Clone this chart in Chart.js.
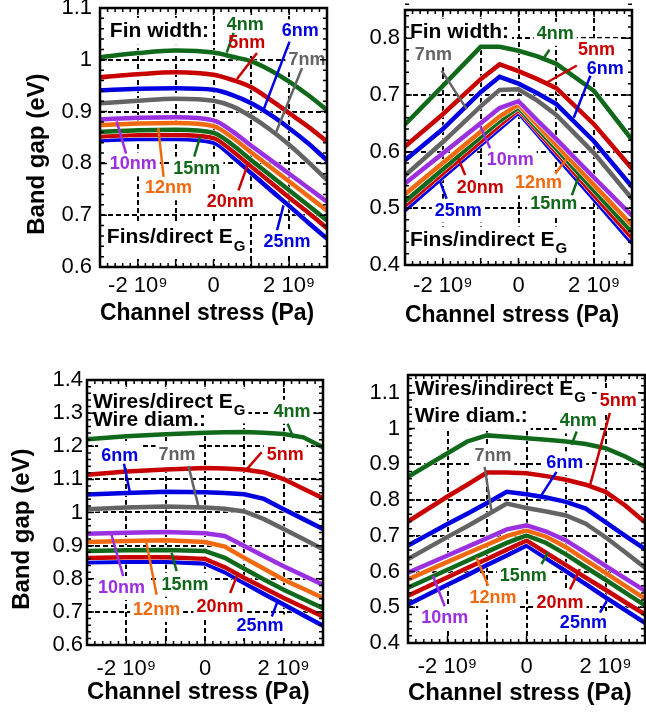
<!DOCTYPE html>
<html>
<head>
<meta charset="utf-8">
<script src="https://cdn.jsdelivr.net/npm/chart.js@4.4.0/dist/chart.umd.min.js"></script>
<style>
  body { margin: 0; background: #fff; width: 646px; height: 713px; position: relative; overflow: hidden; }
  canvas { position: absolute; }
</style>
</head>
<body>
<canvas id="finsDirect" width="330" height="340" style="left:0;top:0"></canvas>
<canvas id="finsIndirect" width="316" height="340" style="left:330px;top:0"></canvas>
<canvas id="wiresDirect" width="330" height="363" style="left:0;top:350px"></canvas>
<canvas id="wiresIndirect" width="316" height="363" style="left:330px;top:350px"></canvas>
<script>
// Band gap vs channel stress, fins and wires

const widths = ['4nm', '5nm', '6nm', '7nm', '10nm', '12nm', '15nm', '20nm', '25nm'];

const stressTickValues = [-2e9, 0, 2e9];
const stressTickLabels = ['-2 10⁹', '0', '2 10⁹'];

// Fins / direct gap
const stressFinsDirect = [-3e9, -2e9, -1e9, 0, 0.5e9, 1e9, 1.5e9, 2e9, 2.5e9, 3e9];
const gapFinsDirect = [
  [1.005, 1.013, 1.018, 1.014, 1.006, 0.997, 0.980, 0.958, 0.932, 0.903],
  [0.966, 0.972, 0.976, 0.971, 0.961, 0.947, 0.923, 0.897, 0.871, 0.842],
  [0.941, 0.944, 0.945, 0.942, 0.932, 0.916, 0.894, 0.868, 0.839, 0.806],
  [0.916, 0.921, 0.925, 0.921, 0.910, 0.890, 0.865, 0.836, 0.803, 0.768],
  [0.885, 0.888, 0.889, 0.883, 0.862, 0.834, 0.807, 0.780, 0.753, 0.726],
  [0.874, 0.877, 0.878, 0.872, 0.850, 0.821, 0.793, 0.765, 0.737, 0.709],
  [0.861, 0.864, 0.865, 0.859, 0.836, 0.806, 0.777, 0.748, 0.719, 0.690],
  [0.852, 0.855, 0.855, 0.849, 0.824, 0.794, 0.764, 0.734, 0.705, 0.675],
  [0.845, 0.847, 0.847, 0.840, 0.813, 0.781, 0.749, 0.718, 0.686, 0.655]
];

// Fins / indirect gap
const stressFinsIndirect = [-3e9, -2e9, -1e9, -0.5e9, 0, 0.5e9, 1e9, 2e9, 3e9];
const gapFinsIndirect = [
  [0.648, 0.716, 0.785, 0.785, 0.778, 0.768, 0.755, 0.707, 0.621],
  [0.609, 0.666, 0.728, 0.754, 0.742, 0.728, 0.712, 0.648, 0.570],
  [0.585, 0.640, 0.705, 0.732, 0.720, 0.703, 0.684, 0.618, 0.538],
  [0.558, 0.617, 0.680, 0.709, 0.710, 0.690, 0.665, 0.597, 0.517],
  [0.544, 0.597, 0.650, 0.677, 0.689, 0.655, 0.622, 0.554, 0.487],
  [0.525, 0.580, 0.635, 0.662, 0.683, 0.647, 0.612, 0.541, 0.470],
  [0.512, 0.569, 0.626, 0.654, 0.678, 0.641, 0.605, 0.531, 0.458],
  [0.505, 0.562, 0.618, 0.647, 0.674, 0.636, 0.599, 0.523, 0.448],
  [0.497, 0.555, 0.612, 0.641, 0.669, 0.631, 0.592, 0.516, 0.439]
];

// Wires / direct gap
const stressWiresDirect = [-3e9, -2e9, -1e9, 0, 0.5e9, 1e9, 1.5e9, 2e9, 2.5e9, 3e9];
const gapWiresDirect = [
  [1.221, 1.230, 1.236, 1.241, 1.242, 1.243, 1.241, 1.237, 1.227, 1.197],
  [1.114, 1.124, 1.130, 1.134, 1.133, 1.130, 1.121, 1.101, 1.072, 1.043],
  [1.054, 1.059, 1.063, 1.061, 1.059, 1.055, 1.041, 1.010, 0.980, 0.950],
  [1.010, 1.015, 1.018, 1.015, 1.011, 1.003, 0.980, 0.950, 0.920, 0.889],
  [0.936, 0.939, 0.941, 0.937, 0.929, 0.899, 0.868, 0.838, 0.810, 0.782],
  [0.911, 0.914, 0.916, 0.911, 0.897, 0.863, 0.830, 0.797, 0.770, 0.742],
  [0.884, 0.886, 0.887, 0.884, 0.863, 0.830, 0.798, 0.767, 0.739, 0.711],
  [0.863, 0.865, 0.865, 0.860, 0.835, 0.802, 0.772, 0.742, 0.714, 0.686],
  [0.850, 0.851, 0.851, 0.846, 0.820, 0.787, 0.754, 0.722, 0.690, 0.658]
];

// Wires / indirect gap
const stressWiresIndirect = [-3e9, -2e9, -1.5e9, -1e9, -0.5e9, 0, 0.5e9, 1e9, 1.5e9, 2e9, 2.5e9, 3e9];
const gapWiresIndirect = [
  [0.865, 0.931, 0.964, 0.981, 0.977, 0.973, 0.969, 0.964, 0.957, 0.945, 0.922, 0.893],
  [0.740, 0.810, 0.843, 0.877, 0.877, 0.875, 0.867, 0.857, 0.843, 0.823, 0.785, 0.738],
  [0.673, 0.733, 0.762, 0.792, 0.823, 0.816, 0.807, 0.795, 0.776, 0.738, 0.700, 0.663],
  [0.635, 0.697, 0.727, 0.758, 0.790, 0.778, 0.768, 0.757, 0.734, 0.696, 0.654, 0.611],
  [0.597, 0.645, 0.669, 0.693, 0.718, 0.729, 0.712, 0.687, 0.652, 0.616, 0.581, 0.546],
  [0.578, 0.627, 0.651, 0.675, 0.699, 0.715, 0.698, 0.668, 0.632, 0.596, 0.560, 0.524],
  [0.555, 0.605, 0.630, 0.655, 0.680, 0.701, 0.680, 0.648, 0.612, 0.577, 0.541, 0.505],
  [0.532, 0.584, 0.610, 0.635, 0.661, 0.687, 0.652, 0.618, 0.583, 0.549, 0.514, 0.480],
  [0.508, 0.563, 0.590, 0.618, 0.645, 0.673, 0.637, 0.601, 0.565, 0.528, 0.492, 0.456]
];

// ---- styles ----
const FONT = "'Liberation Sans', Arial, Helvetica, sans-serif";
const lineColors = ['#10691a', '#c80000', '#0000e0', '#646464', '#9b30e0', '#f26a10', '#10691a', '#c80000', '#0000e0'];
const labelFont = 'bold 18px ' + FONT;
const headFont = 'bold 21px ' + FONT;
const subFont = 'bold 15px ' + FONT;

// label positions in (stress in 1e9 Pa, eV); line = leader [x1, y1, x2, y2]
const notesFinsDirect = [
  { text: 'Fin width:', head: true, x: -2.74, y: 1.055 },
  { text: 'Fins/direct E', sub: 'G', head: true, x: -2.82, y: 0.657 },
  { i: 0, x: 0.84, y: 1.068, line: [0.53, 1.052, 0.35, 1.014] },
  { i: 1, x: 0.88, y: 1.032, line: [1.15, 1.013, 0.62, 0.963] },
  { i: 2, x: 2.29, y: 1.055, line: [2.01, 1.035, 1.32, 0.903] },
  { i: 3, x: 2.47, y: 0.999, line: [2.34, 0.984, 1.66, 0.861] },
  { i: 4, x: -2.12, y: 0.798, line: [-2.31, 0.819, -2.56, 0.881] },
  { i: 5, x: -1.19, y: 0.752, line: [-1.32, 0.774, -1.46, 0.868] },
  { i: 6, x: -0.44, y: 0.790, line: [-0.51, 0.813, -0.35, 0.852] },
  { i: 7, x: 0.44, y: 0.726, line: [0.66, 0.748, 0.93, 0.803] },
  { i: 8, x: 1.94, y: 0.648, line: [1.68, 0.671, 1.85, 0.719] }
];
const notesFinsIndirect = [
  { text: 'Fin width:', head: true, x: -2.87, y: 0.811 },
  { text: 'Fins/indirect E', sub: 'G', head: true, x: -2.87, y: 0.444 },
  { i: 0, x: 0.97, y: 0.808, line: [0.82, 0.780, 0.62, 0.761] },
  { i: 1, x: 2.06, y: 0.779, line: [1.54, 0.752, 0.75, 0.722] },
  { i: 2, x: 2.29, y: 0.746, line: [1.90, 0.734, 1.46, 0.660] },
  { i: 3, x: -2.25, y: 0.770, line: [-2.03, 0.743, -1.37, 0.675] },
  { i: 4, x: -0.22, y: 0.585, line: [-0.75, 0.606, -1.01, 0.645] },
  { i: 5, x: 0.53, y: 0.544, line: [0.97, 0.561, 1.28, 0.588] },
  { i: 6, x: 0.93, y: 0.508, line: [1.41, 0.523, 1.59, 0.556] },
  { i: 7, x: -1.01, y: 0.535, line: [-1.41, 0.559, -1.59, 0.588] },
  { i: 8, x: -1.59, y: 0.496, line: [-1.90, 0.517, -2.07, 0.547] }
];
const notesWiresDirect = [
  { text: 'Wires/direct E', sub: 'G', head: true, x: -2.85, y: 1.334 },
  { text: 'Wire diam.:', head: true, x: -2.85, y: 1.278 },
  { i: 0, x: 2.21, y: 1.304, line: [2.10, 1.268, 2.25, 1.225] },
  { i: 1, x: 2.04, y: 1.172, line: [1.44, 1.182, 1.06, 1.130] },
  { i: 2, x: -2.17, y: 1.170, line: [-2.06, 1.147, -1.91, 1.061] },
  { i: 3, x: -0.71, y: 1.174, line: [-0.42, 1.140, -0.17, 1.020] },
  { i: 4, x: -2.12, y: 0.772, line: [-2.08, 0.808, -2.38, 0.934] },
  { i: 5, x: -1.23, y: 0.706, line: [-1.23, 0.752, -1.49, 0.909] },
  { i: 6, x: -0.51, y: 0.782, line: [-0.72, 0.823, -0.85, 0.878] },
  { i: 7, x: 0.38, y: 0.716, line: [0.64, 0.757, 0.81, 0.808] },
  { i: 8, x: 1.40, y: 0.656, line: [1.70, 0.686, 1.83, 0.727] }
];
const notesWiresIndirect = [
  { text: 'Wires/indirect E', sub: 'G', head: true, x: -2.83, y: 1.110 },
  { text: 'Wire diam.:', head: true, x: -2.83, y: 1.034 },
  { i: 0, x: 1.31, y: 1.020, line: [1.27, 0.992, 1.14, 0.955] },
  { i: 1, x: 2.32, y: 1.077, line: [2.11, 1.044, 1.61, 0.842] },
  { i: 2, x: 0.97, y: 0.903, line: [0.76, 0.879, 0.38, 0.814] },
  { i: 3, x: -0.85, y: 0.922, line: [-1.06, 0.893, -0.89, 0.771] },
  { i: 4, x: -2.07, y: 0.470, line: [-2.07, 0.503, -2.37, 0.588] },
  { i: 5, x: -0.85, y: 0.527, line: [-0.97, 0.560, -1.27, 0.640] },
  { i: 6, x: -0.08, y: 0.588, line: [0.38, 0.621, 0.55, 0.654] },
  { i: 7, x: 0.85, y: 0.513, line: [1.10, 0.550, 1.35, 0.607] },
  { i: 8, x: 1.44, y: 0.456, line: [1.86, 0.485, 2.03, 0.517] }
];

// text box of one note, in pixels
function noteBox(chart, n) {
  const ctx = chart.ctx;
  const text = n.text || widths[n.i];
  ctx.save();
  ctx.font = n.head ? headFont : labelFont;
  let w = ctx.measureText(text).width;
  let subW = 0;
  if (n.sub) { ctx.font = subFont; subW = ctx.measureText(n.sub).width + 1; }
  ctx.restore();
  const h = n.head ? 21 : 18;
  const px = chart.scales.x.getPixelForValue(n.x * 1e9);
  const py = chart.scales.y.getPixelForValue(n.y);
  const left = n.head ? px : px - w / 2;
  return { text, px, py, left, w, subW, h };
}

const panelDeco = {
  id: 'panelDeco',
  beforeDatasetsDraw(chart, args, opts) {
    const ctx = chart.ctx;
    const a = chart.chartArea;
    ctx.save();
    ctx.beginPath();
    ctx.rect(a.left, a.top, a.width, a.height);
    ctx.clip();
    ctx.fillStyle = '#fff';
    opts.notes.forEach(n => {
      const b = noteBox(chart, n);
      ctx.fillRect(b.left - 3, b.py - b.h / 2 - 3, b.w + b.subW + 6, b.h + 6 + (n.sub ? 8 : 0));
    });
    ctx.restore();
  },
  afterDatasetsDraw(chart, args, opts) {
    const ctx = chart.ctx;
    const a = chart.chartArea;
    const x = chart.scales.x, y = chart.scales.y;
    ctx.save();

    // leader lines
    ctx.lineWidth = 2.5;
    opts.notes.forEach(n => {
      if (!n.line) return;
      ctx.strokeStyle = lineColors[n.i];
      ctx.beginPath();
      ctx.moveTo(x.getPixelForValue(n.line[0] * 1e9), y.getPixelForValue(n.line[1]));
      ctx.lineTo(x.getPixelForValue(n.line[2] * 1e9), y.getPixelForValue(n.line[3]));
      ctx.stroke();
    });

    // texts
    ctx.textBaseline = 'middle';
    ctx.textAlign = 'left';
    opts.notes.forEach(n => {
      const b = noteBox(chart, n);
      ctx.font = n.head ? headFont : labelFont;
      ctx.fillStyle = n.head ? '#000' : lineColors[n.i];
      ctx.fillText(b.text, b.left, b.py);
      if (n.sub) {
        ctx.font = subFont;
        ctx.fillText(n.sub, b.left + b.w + 1, b.py + 9);
      }
    });

    // frame with inward ticks
    ctx.strokeStyle = '#000';
    ctx.lineWidth = 1.5;
    ctx.beginPath();
    for (let k = -15; k <= 15; k++) {
      const px = x.getPixelForValue(k * 0.2e9);
      const len = k % 5 === 0 ? 7 : 4;
      ctx.moveTo(px, a.bottom); ctx.lineTo(px, a.bottom - len);
      ctx.moveTo(px, a.top); ctx.lineTo(px, a.top + len);
    }
    const k0 = Math.round(y.min / 0.02), k1 = Math.round(y.max / 0.02);
    for (let k = k0; k <= k1; k++) {
      const py = y.getPixelForValue(k * 0.02);
      const len = k % 5 === 0 ? 7 : 4;
      ctx.moveTo(a.left, py); ctx.lineTo(a.left + len, py);
      ctx.moveTo(a.right, py); ctx.lineTo(a.right - len, py);
    }
    ctx.stroke();
    ctx.lineWidth = 2.5;
    ctx.strokeRect(a.left, a.top, a.width, a.height);
    ctx.restore();
  }
};

function fixSize(size) {
  return scale => {
    if (scale.isHorizontal()) {
      scale.height = size;
      scale.paddingLeft = 0;
      scale.paddingRight = 0;
    } else {
      scale.width = size;
      scale.paddingTop = 0;
      scale.paddingBottom = 0;
    }
  };
}

function makePanel(id, stress, gaps, p) {
  const datasets = [];
  gaps.forEach((g, i) => {
    const pts = stress.map((s, j) => ({ x: s, y: g[j] }));
    const mode = p.smooth ? 'monotone' : 'default';
    datasets.push({ label: widths[i], data: pts, borderColor: lineColors[i], borderWidth: 4.5,
                    pointRadius: 0, cubicInterpolationMode: mode });
    // thin white edge under each curve
    datasets.push({ label: widths[i] + ' edge', data: pts, borderColor: '#fff', borderWidth: 5.5,
                    pointRadius: 0, cubicInterpolationMode: mode });
  });

  const gridOpts = { color: '#000', lineWidth: 2, drawTicks: false };
  const borderOpts = { display: false, dash: [5, 3] };
  const tickFont = { family: FONT, size: 22 };
  const titleFont = { family: FONT, size: 24, weight: 'bold', lineHeight: 1.2 };

  new Chart(document.getElementById(id), {
    type: 'line',
    data: { datasets },
    options: {
      responsive: false,
      animation: false,
      layout: { padding: { top: p.padTop, right: p.padRight, left: 0, bottom: 0 } },
      plugins: {
        legend: { display: false },
        tooltip: { enabled: false },
        panelDeco: { notes: p.notes }
      },
      scales: {
        x: {
          type: 'linear', min: -3e9, max: 3e9,
          afterFit: fixSize(p.xAxisH),
          grid: gridOpts, border: borderOpts,
          ticks: {
            stepSize: 1e9, autoSkip: false, maxRotation: 0, padding: p.xTickPad,
            color: '#000', font: tickFont,
            callback: v => {
              const k = stressTickValues.indexOf(Math.round(v / 1e9) * 1e9);
              return k < 0 ? '' : stressTickLabels[k];
            }
          },
          title: { display: true, text: 'Channel stress (Pa)  ', color: '#000', font: titleFont,
                   padding: { top: 0, bottom: p.xTitlePad } }
        },
        y: {
          type: 'linear', min: p.yMin, max: p.yMax,
          afterFit: fixSize(p.yAxisW),
          grid: gridOpts, border: borderOpts,
          ticks: {
            stepSize: 0.1, includeBounds: false, padding: p.yTickPad,
            color: '#000', font: tickFont,
            callback: v => String(+v.toFixed(2))
          },
          title: { display: p.yTitle, text: 'Band gap (eV)     ', color: '#000', font: titleFont,
                   padding: { top: p.yTitlePad, bottom: 0 } }
        }
      }
    },
    plugins: [panelDeco]
  });
}

makePanel('finsDirect', stressFinsDirect, gapFinsDirect, {
  yMin: 0.6, yMax: 1.1, notes: notesFinsDirect, smooth: true,
  padTop: 8, padRight: 3, yAxisW: 100, xAxisH: 73,
  xTickPad: 6, yTickPad: 8, xTitlePad: 12.6, yTitle: true, yTitlePad: 22.6
});
makePanel('finsIndirect', stressFinsIndirect, gapFinsIndirect, {
  yMin: 0.4, yMax: 0.85, notes: notesFinsIndirect, smooth: false,
  padTop: 10, padRight: 14, yAxisW: 75, xAxisH: 75,
  xTickPad: 8, yTickPad: 5, xTitlePad: 10.6, yTitle: false, yTitlePad: 0
});
makePanel('wiresDirect', stressWiresDirect, gapWiresDirect, {
  yMin: 0.6, yMax: 1.4, notes: notesWiresDirect, smooth: false,
  padTop: 30, padRight: 7, yAxisW: 87, xAxisH: 68,
  xTickPad: 11, yTickPad: 4, xTitlePad: 6.6, yTitle: true, yTitlePad: 7.6
});
makePanel('wiresIndirect', stressWiresIndirect, gapWiresIndirect, {
  yMin: 0.4, yMax: 1.15, notes: notesWiresIndirect, smooth: false,
  padTop: 25, padRight: 1, yAxisW: 78, xAxisH: 70,
  xTickPad: 11, yTickPad: 8, xTitlePad: 5.6, yTitle: false, yTitlePad: 0
});
</script>
</body>
</html>
